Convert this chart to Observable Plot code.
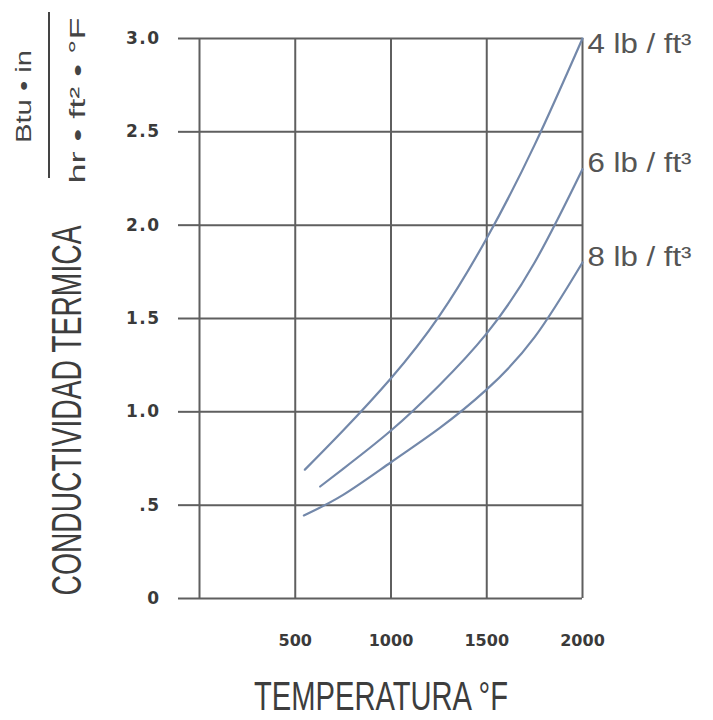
<!DOCTYPE html>
<html>
<head>
<meta charset="utf-8">
<script src="https://cdn.jsdelivr.net/npm/d3@7"></script>
<script src="https://cdn.jsdelivr.net/npm/@observablehq/plot@0.6"></script>
<style>
  html, body { margin: 0; padding: 0; background: #fff; }
  #chart svg { display: block; }
</style>
</head>
<body>
<div id="chart"></div>
<script>
// ---- data ----
const seriesNames = ["4 lb / ft³", "6 lb / ft³", "8 lb / ft³"];
const temps4 = [550, 750, 1000, 1250, 1500, 1750, 2000];
const cond4  = [0.69, 0.90, 1.18, 1.51, 1.93, 2.43, 3.00];
const temps6 = [630, 750, 1000, 1250, 1500, 1750, 2000];
const cond6  = [0.60, 0.695, 0.90, 1.14, 1.42, 1.80, 2.30];
const temps8 = [545, 750, 1000, 1250, 1500, 1750, 2000];
const cond8  = [0.445, 0.555, 0.73, 0.91, 1.12, 1.40, 1.80];

const xGrid = [0, 500, 1000, 1500, 2000];
const xTicks = [500, 1000, 1500, 2000];
const xTickLabels = ["500", "1000", "1500", "2000"];
const yTicks = [0, 0.5, 1.0, 1.5, 2.0, 2.5, 3.0];
const yTickLabels = ["0", ".5", "1.0", "1.5", "2.0", "2.5", "3.0"];

const xTitle = "TEMPERATURA °F";
const yTitle = "CONDUCTIVIDAD TERMICA";
const unitNum = "Btu • in";
const unitDen = "hr • ft² • °F";

// ---- table built from the arrays ----
const allTemps = [temps4, temps6, temps8];
const allCond = [cond4, cond6, cond8];
const rows = [];
seriesNames.forEach((s, i) => {
  allTemps[i].forEach((t, j) => rows.push({series: s, t, k: allCond[i][j]}));
});
const ends = seriesNames.map((s, i) => ({series: s, t: allTemps[i].at(-1), k: allCond[i].at(-1)}));

const gridColor = "#5f5f5f";
const curveColor = "#7388aa";
const labelDy = [6, -6, -5];

const chart = Plot.plot({
  width: 713,
  height: 720,
  marginLeft: 199,
  marginRight: 131,
  marginTop: 38,
  marginBottom: 122,
  style: {background: "#fff", fontFamily: "'Liberation Sans', Arial, sans-serif"},
  x: {domain: [0, 2000]},
  y: {domain: [0, 3]},
  marks: [
    Plot.gridX(xGrid, {stroke: gridColor, strokeOpacity: 1, strokeWidth: 2}),
    Plot.gridY(yTicks, {stroke: gridColor, strokeOpacity: 1, strokeWidth: 2}),
    Plot.axisY(yTicks, {
      tickSize: 21, tickPadding: 18, stroke: gridColor, strokeWidth: 2,
      tickFormat: d => yTickLabels[yTicks.indexOf(d)],
      fill: "#3a3a3a", fontSize: 17, fontWeight: "bold",
      fontFamily: "'DejaVu Sans', sans-serif", label: null
    }),
    Plot.axisX(xTicks, {
      tickSize: 0, tickPadding: 36,
      tickFormat: d => xTickLabels[xTicks.indexOf(d)],
      fill: "#3a3a3a", fontSize: 16, fontWeight: "bold",
      fontFamily: "'DejaVu Sans', sans-serif", label: null
    }),
    Plot.line(rows, {x: "t", y: "k", z: "series", curve: "natural",
      stroke: curveColor, strokeWidth: 2.2}),
    ...ends.map((e, i) => Plot.text([e], {
      x: "t", y: "k", text: "series", textAnchor: "start", dx: 5, dy: labelDy[i],
      fontSize: 27, fill: "#555", lineAnchor: "middle"
    })),
    Plot.text([xTitle], {frameAnchor: "bottom", textAnchor: "middle", dx: -10, dy: 99, lineAnchor: "middle",
      fontSize: 40, fill: "#3d3d3d"}),
    Plot.text([yTitle], {frameAnchor: "left", textAnchor: "middle", rotate: -90, dx: -132, dy: 92, lineAnchor: "middle",
      fontSize: 42, fill: "#3d3d3d"}),
    Plot.text([unitNum], {frameAnchor: "top-left", textAnchor: "middle", rotate: -90, dx: -176, dy: 58, lineAnchor: "middle",
      fontSize: 22, fill: "#444"}),
    Plot.text([unitDen], {frameAnchor: "top-left", textAnchor: "middle", rotate: -90, dx: -122, dy: 62, lineAnchor: "middle",
      fontSize: 22, fill: "#444"})
  ]
});

document.getElementById("chart").appendChild(chart);

// condense the narrow display type
const condensed = new Map([
  [xTitle, 254], [yTitle, 370], [unitNum, 93], [unitDen, 166],
  [seriesNames[0], 104], [seriesNames[1], 104], [seriesNames[2], 104]
]);
d3.select(chart).selectAll("text").each(function() {
  const t = this.textContent;
  if (condensed.has(t)) {
    d3.select(this).attr("textLength", condensed.get(t)).attr("lengthAdjust", "spacingAndGlyphs");
  }
});
d3.select(chart).selectAll("[aria-label='y-axis tick label'] text").attr("letter-spacing", "1.5px");

// fraction bar of the unit
d3.select(chart).append("line")
  .attr("x1", 49).attr("x2", 49).attr("y1", 12).attr("y2", 178)
  .attr("stroke", "#444").attr("stroke-width", 2);
</script>
</body>
</html>
